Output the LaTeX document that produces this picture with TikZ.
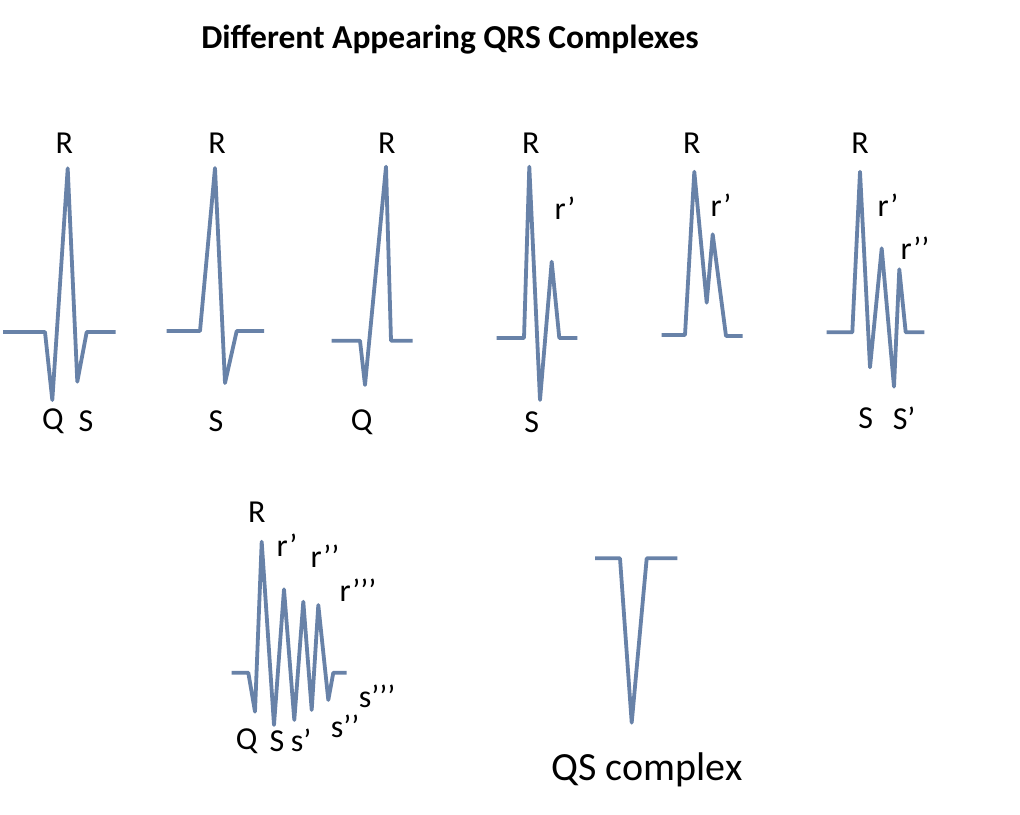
\documentclass[tikz,border=0pt]{standalone}
\usepackage{fontspec}
\setmainfont{Carlito}
\definecolor{wave}{RGB}{104,130,168}
\begin{document}
\begin{tikzpicture}[x=1pt,y=-1pt,
  wv/.style={draw=wave,line width=3.8pt,line join=round,line cap=butt},
  lbl/.style={font=\fontsize{32}{35}\selectfont,inner sep=0pt,anchor=center}]
\useasboundingbox[fill=white] (0,0) rectangle (1020,814);
\node[font=\fontsize{33.5}{36}\selectfont\bfseries,anchor=center] (title) at (450,40) {Different Appearing QRS Complexes};
% 1
\draw[wv] (3,332) -- (45,332) -- (52.3,400) -- (67.7,168.3) -- (77.3,381.7) -- (86.7,332) -- (115.7,332);
\node[lbl] (r1) at (64.3,143) {R};
\node[lbl] (q1) at (53,421) {Q};
\node[lbl] (s1) at (86,421) {S};
% 2
\draw[wv] (166.7,331) -- (200,331) -- (215,168) -- (225,383) -- (236.7,331) -- (264,331);
\node[lbl] (r2) at (217,143) {R};
\node[lbl] (s2) at (216,421) {S};
% 3
\draw[wv] (331.7,340.7) -- (360,340.7) -- (365,385) -- (386,166.7) -- (391,340.7) -- (412.7,340.7);
\node[lbl] (r3) at (386.7,143) {R};
\node[lbl] (q3) at (361.7,422) {Q};
% 4
\draw[wv] (496.7,338) -- (524,338) -- (529.3,166.7) -- (540,400) -- (551.7,261.7) -- (559.3,338) -- (577.3,338);
\node[lbl] (r4) at (530.7,143) {R};
\node[lbl] (rp4) at (565,208) {r’};
\node[lbl] (s4) at (531.7,422) {S};
% 5
\draw[wv] (661.7,335) -- (685,335) -- (694.3,171.7) -- (706.7,302.7) -- (712.7,234.3) -- (726,336) -- (742.7,336);
\node[lbl] (r5) at (691.7,143) {R};
\node[lbl] (rp5) at (721,205) {r’};
% 6
\draw[wv] (826.7,332.3) -- (852.3,332.3) -- (860,171.7) -- (870,367.3) -- (881.7,248.3) -- (894,386.7) -- (899.3,269.3) -- (905.7,332.3) -- (924.3,332.3);
\node[lbl] (r6) at (860,143) {R};
\node[lbl] (rp6) at (888,205) {r’};
\node[lbl] (rpp6) at (915,248) {r’’};
\node[lbl] (s6) at (865.7,418) {S};
\node[lbl] (sp6) at (904,418) {S’};
% 7
\draw[wv] (231.7,672.7) -- (248.3,672.7) -- (255,711.7) -- (261.7,541.7) -- (274,725) -- (284,589.3) -- (294.3,720) -- (303.3,601.7) -- (311.7,710) -- (318.3,605) -- (328.3,700) -- (333.3,672.7) -- (346.7,672.7);
\node[lbl] (r7) at (256.7,512) {R};
\node[lbl] (rp7) at (287,545) {r’};
\node[lbl] (rpp7) at (325,556.7) {r’’};
\node[lbl] (rppp7) at (358,590) {r’’’};
\node[lbl] (q7) at (246.7,741) {Q};
\node[lbl] (s7) at (277,741) {S};
\node[lbl] (sp7) at (301,740) {s’};
\node[lbl] (spp7) at (345,726) {s’’};
\node[lbl] (sppp7) at (377,696) {s’’’};
% 8
\draw[wv] (595,558.3) -- (620,558.3) -- (631.7,722.7) -- (646.7,558.3) -- (677.3,558.3);
\node[lbl,font=\fontsize{40}{44}\selectfont] (qs) at (647,770) {QS complex};
\end{tikzpicture}
\end{document}
